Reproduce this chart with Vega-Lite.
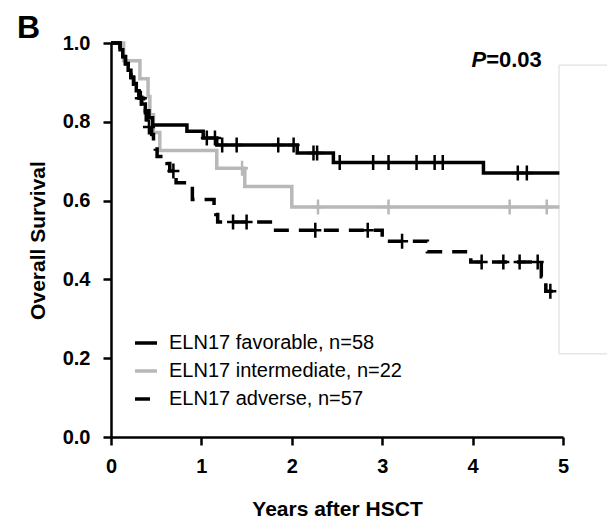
{
  "$schema": "https://vega.github.io/schema/vega-lite/v6.json",
  "width": 452,
  "height": 394,
  "autosize": "none",
  "padding": {"left": 111, "top": 43, "right": 44, "bottom": 83},
  "config": {
    "view": {"stroke": null},
    "font": "Liberation Sans",
    "axis": {
      "domainColor": "#000000", "domainWidth": 2.5, "tickColor": "#000000", "tickWidth": 2.5,
      "tickSize": 8, "grid": false, "labelFontSize": 20, "labelFontWeight": "bold", "labelColor": "#000000",
      "titleFontSize": 21, "titleFontWeight": "bold", "titleColor": "#000000", "labelFont": "Liberation Sans", "titleFont": "Liberation Sans"
    }
  },
  "datasets": {
    "curves": [
      {"group": "ELN17 intermediate, n=22", "t": 0, "s": 1},
      {"group": "ELN17 intermediate, n=22", "t": 0.14, "s": 0.955},
      {"group": "ELN17 intermediate, n=22", "t": 0.32, "s": 0.909},
      {"group": "ELN17 intermediate, n=22", "t": 0.41, "s": 0.864},
      {"group": "ELN17 intermediate, n=22", "t": 0.43, "s": 0.818},
      {"group": "ELN17 intermediate, n=22", "t": 0.47, "s": 0.773},
      {"group": "ELN17 intermediate, n=22", "t": 0.54, "s": 0.727},
      {"group": "ELN17 intermediate, n=22", "t": 1.17, "s": 0.682},
      {"group": "ELN17 intermediate, n=22", "t": 1.48, "s": 0.636},
      {"group": "ELN17 intermediate, n=22", "t": 2.0, "s": 0.584},
      {"group": "ELN17 intermediate, n=22", "t": 4.96, "s": 0.584},
      {"group": "ELN17 favorable, n=58", "t": 0, "s": 1},
      {"group": "ELN17 favorable, n=58", "t": 0.10, "s": 0.983},
      {"group": "ELN17 favorable, n=58", "t": 0.13, "s": 0.966},
      {"group": "ELN17 favorable, n=58", "t": 0.16, "s": 0.948},
      {"group": "ELN17 favorable, n=58", "t": 0.19, "s": 0.931},
      {"group": "ELN17 favorable, n=58", "t": 0.22, "s": 0.914},
      {"group": "ELN17 favorable, n=58", "t": 0.25, "s": 0.897},
      {"group": "ELN17 favorable, n=58", "t": 0.28, "s": 0.879},
      {"group": "ELN17 favorable, n=58", "t": 0.31, "s": 0.862},
      {"group": "ELN17 favorable, n=58", "t": 0.34, "s": 0.845},
      {"group": "ELN17 favorable, n=58", "t": 0.38, "s": 0.828},
      {"group": "ELN17 favorable, n=58", "t": 0.42, "s": 0.810},
      {"group": "ELN17 favorable, n=58", "t": 0.46, "s": 0.792},
      {"group": "ELN17 favorable, n=58", "t": 0.84, "s": 0.776},
      {"group": "ELN17 favorable, n=58", "t": 1.02, "s": 0.759},
      {"group": "ELN17 favorable, n=58", "t": 1.17, "s": 0.741},
      {"group": "ELN17 favorable, n=58", "t": 2.06, "s": 0.721},
      {"group": "ELN17 favorable, n=58", "t": 2.46, "s": 0.697},
      {"group": "ELN17 favorable, n=58", "t": 4.12, "s": 0.670},
      {"group": "ELN17 favorable, n=58", "t": 4.96, "s": 0.670},
      {"group": "ELN17 adverse, n=57", "t": 0, "s": 1},
      {"group": "ELN17 adverse, n=57", "t": 0.10, "s": 0.982},
      {"group": "ELN17 adverse, n=57", "t": 0.13, "s": 0.965},
      {"group": "ELN17 adverse, n=57", "t": 0.16, "s": 0.947},
      {"group": "ELN17 adverse, n=57", "t": 0.19, "s": 0.930},
      {"group": "ELN17 adverse, n=57", "t": 0.22, "s": 0.912},
      {"group": "ELN17 adverse, n=57", "t": 0.25, "s": 0.895},
      {"group": "ELN17 adverse, n=57", "t": 0.28, "s": 0.877},
      {"group": "ELN17 adverse, n=57", "t": 0.31, "s": 0.860},
      {"group": "ELN17 adverse, n=57", "t": 0.36, "s": 0.842},
      {"group": "ELN17 adverse, n=57", "t": 0.38, "s": 0.823},
      {"group": "ELN17 adverse, n=57", "t": 0.39, "s": 0.805},
      {"group": "ELN17 adverse, n=57", "t": 0.40, "s": 0.787},
      {"group": "ELN17 adverse, n=57", "t": 0.45, "s": 0.768},
      {"group": "ELN17 adverse, n=57", "t": 0.47, "s": 0.750},
      {"group": "ELN17 adverse, n=57", "t": 0.49, "s": 0.731},
      {"group": "ELN17 adverse, n=57", "t": 0.51, "s": 0.712},
      {"group": "ELN17 adverse, n=57", "t": 0.62, "s": 0.694},
      {"group": "ELN17 adverse, n=57", "t": 0.65, "s": 0.675},
      {"group": "ELN17 adverse, n=57", "t": 0.72, "s": 0.645},
      {"group": "ELN17 adverse, n=57", "t": 0.90, "s": 0.603},
      {"group": "ELN17 adverse, n=57", "t": 1.14, "s": 0.584},
      {"group": "ELN17 adverse, n=57", "t": 1.16, "s": 0.565},
      {"group": "ELN17 adverse, n=57", "t": 1.18, "s": 0.546},
      {"group": "ELN17 adverse, n=57", "t": 1.79, "s": 0.525},
      {"group": "ELN17 adverse, n=57", "t": 3.0, "s": 0.497},
      {"group": "ELN17 adverse, n=57", "t": 3.5, "s": 0.470},
      {"group": "ELN17 adverse, n=57", "t": 3.98, "s": 0.444},
      {"group": "ELN17 adverse, n=57", "t": 4.76, "s": 0.407},
      {"group": "ELN17 adverse, n=57", "t": 4.81, "s": 0.370},
      {"group": "ELN17 adverse, n=57", "t": 4.91, "s": 0.370}
    ],
    "censor": [
      {"group": "ELN17 intermediate, n=22", "t": 1.45, "s": 0.682},
      {"group": "ELN17 intermediate, n=22", "t": 2.29, "s": 0.584},
      {"group": "ELN17 intermediate, n=22", "t": 3.07, "s": 0.584},
      {"group": "ELN17 intermediate, n=22", "t": 4.41, "s": 0.584},
      {"group": "ELN17 intermediate, n=22", "t": 4.82, "s": 0.584},
      {"group": "ELN17 favorable, n=58", "t": 1.06, "s": 0.759},
      {"group": "ELN17 favorable, n=58", "t": 1.15, "s": 0.759},
      {"group": "ELN17 favorable, n=58", "t": 1.23, "s": 0.741},
      {"group": "ELN17 favorable, n=58", "t": 1.39, "s": 0.741},
      {"group": "ELN17 favorable, n=58", "t": 1.85, "s": 0.741},
      {"group": "ELN17 favorable, n=58", "t": 2.02, "s": 0.741},
      {"group": "ELN17 favorable, n=58", "t": 2.24, "s": 0.721},
      {"group": "ELN17 favorable, n=58", "t": 2.28, "s": 0.721},
      {"group": "ELN17 favorable, n=58", "t": 2.53, "s": 0.697},
      {"group": "ELN17 favorable, n=58", "t": 2.90, "s": 0.697},
      {"group": "ELN17 favorable, n=58", "t": 3.07, "s": 0.697},
      {"group": "ELN17 favorable, n=58", "t": 3.38, "s": 0.697},
      {"group": "ELN17 favorable, n=58", "t": 3.58, "s": 0.697},
      {"group": "ELN17 favorable, n=58", "t": 3.67, "s": 0.697},
      {"group": "ELN17 favorable, n=58", "t": 4.50, "s": 0.670},
      {"group": "ELN17 favorable, n=58", "t": 4.60, "s": 0.670},
      {"group": "ELN17 adverse, n=57", "t": 0.33, "s": 0.860},
      {"group": "ELN17 adverse, n=57", "t": 0.42, "s": 0.787},
      {"group": "ELN17 adverse, n=57", "t": 0.69, "s": 0.675},
      {"group": "ELN17 adverse, n=57", "t": 1.35, "s": 0.546},
      {"group": "ELN17 adverse, n=57", "t": 1.50, "s": 0.546},
      {"group": "ELN17 adverse, n=57", "t": 2.26, "s": 0.525},
      {"group": "ELN17 adverse, n=57", "t": 2.84, "s": 0.525},
      {"group": "ELN17 adverse, n=57", "t": 3.22, "s": 0.497},
      {"group": "ELN17 adverse, n=57", "t": 4.10, "s": 0.444},
      {"group": "ELN17 adverse, n=57", "t": 4.34, "s": 0.444},
      {"group": "ELN17 adverse, n=57", "t": 4.52, "s": 0.444},
      {"group": "ELN17 adverse, n=57", "t": 4.72, "s": 0.444},
      {"group": "ELN17 adverse, n=57", "t": 4.86, "s": 0.370}
    ]
  },
  "encoding": {
    "x": {"field": "t", "type": "quantitative", "scale": {"domain": [0, 5], "nice": false},
          "axis": {"values": [0, 1, 2, 3, 4, 5], "format": "d", "title": "Years after HSCT", "labelPadding": 11, "titlePadding": 22, "labelFlush": false}},
    "y": {"field": "s", "type": "quantitative", "scale": {"domain": [0, 1], "nice": false},
          "axis": {"values": [0, 0.2, 0.4, 0.6, 0.8, 1.0], "format": ".1f", "title": "Overall Survival", "labelPadding": 13, "titlePadding": 14, "labelFlush": false}}
  },
  "layer": [
    {
      "data": {"values": [{"t": 4.956, "t2": 5.7, "s": 0.944, "s2": 0.211}]},
      "mark": {"type": "rect", "fill": null, "stroke": "#d9d9d9", "strokeWidth": 1, "clip": false},
      "encoding": {
        "x2": {"field": "t2"},
        "y2": {"field": "s2"}
      }
    },
    {
      "data": {"name": "curves"},
      "mark": {"type": "line", "interpolate": "step-after", "strokeWidth": 3.5},
      "encoding": {
        "color": {"field": "group", "type": "nominal",
                  "scale": {"domain": ["ELN17 favorable, n=58", "ELN17 intermediate, n=22", "ELN17 adverse, n=57"], "range": ["#000000", "#b8b8b8", "#000000"]},
                  "legend": {"orient": "none", "legendX": 22, "legendY": 287, "title": null, "labelFontSize": 20, "labelFont": "Liberation Sans", "labelColor": "#000000", "labelLimit": 400, "symbolType": "stroke", "symbolSize": 484, "symbolStrokeWidth": 3.5, "rowPadding": 5, "labelOffset": 10}},
        "strokeDash": {"field": "group", "type": "nominal",
                  "scale": {"domain": ["ELN17 favorable, n=58", "ELN17 intermediate, n=22", "ELN17 adverse, n=57"], "range": [[1, 0], [1, 0], [15, 10]]},
                  "legend": {"orient": "none", "legendX": 22, "legendY": 287, "title": null, "labelFontSize": 20, "labelFont": "Liberation Sans", "labelColor": "#000000", "labelLimit": 400, "symbolType": "stroke", "symbolSize": 484, "symbolStrokeWidth": 3.5, "rowPadding": 5, "labelOffset": 10}}
      }
    },
    {
      "data": {"name": "censor"},
      "mark": {"type": "point", "shape": "M-0.8,0H0.8M0,-1V1", "filled": false, "size": 225, "strokeWidth": 2.5, "opacity": 1},
      "encoding": {
        "color": {"field": "group", "type": "nominal", "legend": null}
      }
    },
    {
      "data": {"values": [{"t": 4.15, "s": 0.957, "label": "P"}]},
      "mark": {"type": "text", "align": "right", "baseline": "middle", "fontSize": 22, "fontWeight": "bold", "fontStyle": "italic", "color": "#000000", "font": "Liberation Sans"},
      "encoding": {
        "text": {"field": "label"}
      }
    },
    {
      "data": {"values": [{"t": 4.15, "s": 0.957, "label": "=0.03"}]},
      "mark": {"type": "text", "align": "left", "baseline": "middle", "fontSize": 22, "fontWeight": "bold", "color": "#000000", "font": "Liberation Sans"},
      "encoding": {
        "text": {"field": "label"}
      }
    },
    {
      "data": {"values": [{"t": -1.04, "s": 1.013, "label": "B"}]},
      "mark": {"type": "text", "align": "left", "baseline": "alphabetic", "fontSize": 32, "fontWeight": "bold", "color": "#000000", "font": "Liberation Sans", "clip": false},
      "encoding": {
        "text": {"field": "label"}
      }
    }
  ]
}
